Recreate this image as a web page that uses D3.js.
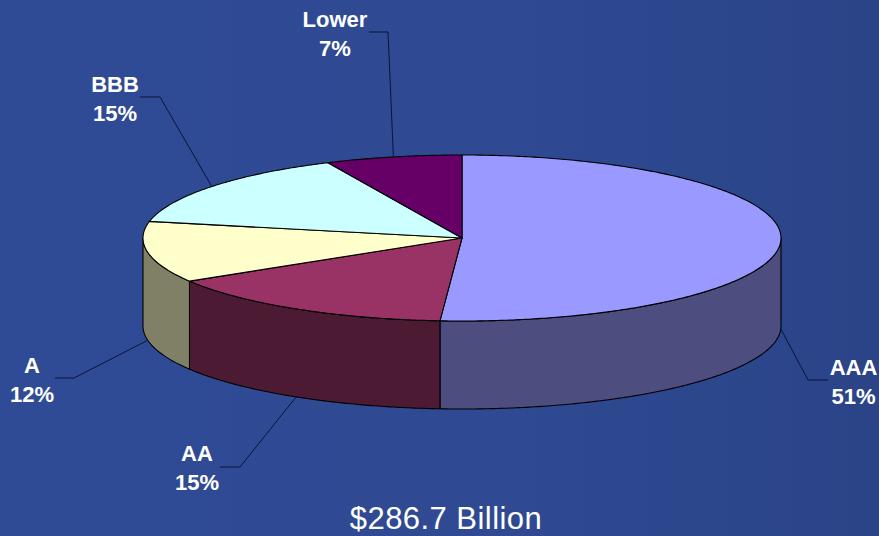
<!DOCTYPE html>
<html>
<head>
<meta charset="utf-8">
<script src="https://cdn.jsdelivr.net/npm/d3@7/dist/d3.min.js"></script>
<style>html,body{margin:0;padding:0;overflow:hidden}svg{display:block}</style>
</head>
<body>
<svg id="chart" width="879" height="536"></svg>
<script>
const categories = ["AAA", "AA", "A", "BBB", "Lower"];
const shares = [51.1, 15.2, 11.9, 14.9, 6.9];
const percentLabels = ["51%", "15%", "12%", "15%", "7%"];
const totalLabel = "$286.7 Billion";

const topColors = ["#9999ff", "#993366", "#ffffcc", "#ccffff", "#660066"];
const sideColors = ["#4d4d80", "#4d1a33", "#808066", "#668080", "#330033"];

const labelPos = [
  {x: 853.5, y: 375, elbow: [808, 380], end: [828, 380]},
  {x: 197, y: 461, elbow: [240, 467], end: [220, 467]},
  {x: 32, y: 373, elbow: [74, 378], end: [55, 378]},
  {x: 115, y: 92, elbow: [160, 97], end: [140, 97]},
  {x: 335, y: 27, elbow: [388, 32], end: [369, 32]}
];

const W = 879, H = 536, cx = 462, cy = 238, rx = 319, ry = 83, depth = 88;
const FONT = "'Liberation Sans', Arial, sans-serif";
const OUT = "#000000";

const svg = d3.select("#chart");
const defs = svg.append("defs");
const grad = defs.append("linearGradient").attr("id", "bg")
  .attr("x1", "0").attr("y1", "0").attr("x2", "1").attr("y2", "0");
grad.append("stop").attr("offset", "0").attr("stop-color", "#304b95");
grad.append("stop").attr("offset", "0.55").attr("stop-color", "#2f4a93");
grad.append("stop").attr("offset", "1").attr("stop-color", "#2b4488");
svg.append("rect").attr("width", W).attr("height", H).attr("fill", "url(#bg)");

const pie = d3.pie().sort(null).value(d => d)(shares);
const px = a => cx + rx * Math.sin(a);
const py = a => cy - ry * Math.cos(a);

const ellipseArc = (a0, a1, y0) => {
  const n = Math.max(2, Math.ceil((a1 - a0) / 0.01));
  return d3.range(n + 1).map(i => {
    const a = a0 + (a1 - a0) * i / n;
    return [px(a), py(a) + y0];
  });
};
const line = d3.line();

// walls: only the front half (angle from PI/2 to 3PI/2) shows
const wallG = svg.append("g");
pie.forEach((s, i) => {
  const a0 = Math.max(s.startAngle, Math.PI / 2);
  const a1 = Math.min(s.endAngle, Math.PI * 1.5);
  if (a1 <= a0) return;
  const top = ellipseArc(a0, a1, 0);
  const bottom = ellipseArc(a0, a1, depth).reverse();
  wallG.append("path")
    .attr("d", line(top.concat(bottom)) + "Z")
    .attr("fill", sideColors[i])
    .attr("stroke", OUT).attr("stroke-width", 1.1).attr("stroke-linejoin", "round");
});

// top face
const topG = svg.append("g");
pie.forEach((s, i) => {
  const rim = ellipseArc(s.startAngle, s.endAngle, 0);
  topG.append("path")
    .attr("d", line([[cx, cy]].concat(rim)) + "Z")
    .attr("fill", topColors[i])
    .attr("stroke", OUT).attr("stroke-width", 1.1).attr("stroke-linejoin", "round");
});

// leader lines, anchored at each slice's mid-angle
const leaderG = svg.append("g");
pie.forEach((s, i) => {
  const mid = (s.startAngle + s.endAngle) / 2;
  const front = mid > Math.PI / 2 && mid < Math.PI * 1.5;
  const anchor = [px(mid), py(mid) + (front ? depth : 0)];
  leaderG.append("path")
    .attr("d", line([anchor, labelPos[i].elbow, labelPos[i].end]))
    .attr("fill", "none").attr("stroke", "#0a1434").attr("stroke-width", 1);
});

// labels
const labelG = svg.append("g").attr("font-family", FONT).attr("font-weight", "bold")
  .attr("font-size", 22).attr("fill", "#ffffff").attr("text-anchor", "middle");
categories.forEach((c, i) => {
  labelG.append("text").attr("x", labelPos[i].x).attr("y", labelPos[i].y).text(c);
  labelG.append("text").attr("x", labelPos[i].x).attr("y", labelPos[i].y + 28.5).text(percentLabels[i]);
});

svg.append("text").attr("x", 446).attr("y", 529.4)
  .attr("font-family", FONT).attr("font-size", 31).attr("letter-spacing", 0.45).attr("fill", "#ffffff")
  .attr("text-anchor", "middle").text(totalLabel);
</script>
</body>
</html>
